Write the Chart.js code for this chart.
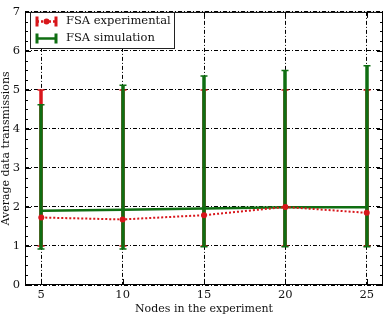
<!DOCTYPE html>
<html>
<head>
<meta charset="utf-8">
<script src="https://cdn.jsdelivr.net/npm/chart.js@4.4.1/dist/chart.umd.min.js"></script>
<style>
  html, body { margin: 0; padding: 0; background: #fff; }
</style>
</head>
<body>
<canvas id="grafica" width="387" height="316"></canvas>
<script>
// datos
let nodos = [5, 10, 15, 20, 25];
let expMedia = [1.73, 1.68, 1.79, 2.00, 1.85];
let expMin = [1.0, 1.0, 1.0, 1.0, 1.0];
let expMax = [5.0, 5.0, 5.0, 5.0, 5.0];
let simMedia = [1.90, 1.93, 1.96, 1.99, 1.99];
let simMin = [0.92, 0.92, 0.98, 0.98, 0.98];
let simMax = [4.62, 5.12, 5.36, 5.50, 5.62];
let yTicks = [0, 1, 2, 3, 4, 5, 6, 7];
let xTicks = [5, 10, 15, 20, 25];
let etiquetas = ['FSA experimental', 'FSA simulation'];

const rojo = '#d8161b';
const verde = '#0f6e12';
const fuente = '"DejaVu Serif", serif';

function puntos(ys){
    return nodos.map((n, i) => ({x: n, y: ys[i]}));
}

// barras de error + marco + ticks hacia dentro
const errores = {
    id: 'errores',
    beforeDatasetsDraw(chart){
        const ctx = chart.ctx;
        const xs = chart.scales.x, ys = chart.scales.y;
        const barras = [
            {min: expMin, max: expMax, color: rojo},
            {min: simMin, max: simMax, color: verde}
        ];
        ctx.save();
        barras.forEach(b => {
            nodos.forEach((n, i) => {
                const px = Math.round(xs.getPixelForValue(n));
                const y1 = ys.getPixelForValue(b.min[i]);
                const y2 = ys.getPixelForValue(b.max[i]);
                ctx.strokeStyle = b.color;
                ctx.lineWidth = 3.5;
                ctx.beginPath();
                ctx.moveTo(px, y1);
                ctx.lineTo(px, y2);
                ctx.stroke();
                ctx.lineWidth = 1.5;
                ctx.beginPath();
                ctx.moveTo(px - 3.5, y1);
                ctx.lineTo(px + 3.5, y1);
                ctx.moveTo(px - 3.5, y2);
                ctx.lineTo(px + 3.5, y2);
                ctx.stroke();
            });
        });
        ctx.restore();
    },
    afterDraw(chart){
        const ctx = chart.ctx;
        const a = chart.chartArea;
        const xs = chart.scales.x, ys = chart.scales.y;
        ctx.save();
        ctx.strokeStyle = '#000';
        ctx.lineWidth = 1;
        ctx.strokeRect(a.left + 0.5, a.top + 0.5, a.right - a.left - 1, a.bottom - a.top - 1);
        ctx.beginPath();
        // ticks menores en y cada 0.25
        for (let v = 0; v <= 7.001; v += 0.25){
            const py = Math.round(ys.getPixelForValue(v)) + 0.5;
            const largo = (Math.abs(v - Math.round(v)) < 0.01) ? 6 : 3;
            ctx.moveTo(a.left, py); ctx.lineTo(a.left + largo, py);
            ctx.moveTo(a.right, py); ctx.lineTo(a.right - largo, py);
        }
        xTicks.forEach(v => {
            const px = Math.round(xs.getPixelForValue(v)) + 0.5;
            ctx.moveTo(px, a.bottom); ctx.lineTo(px, a.bottom - 6);
            ctx.moveTo(px, a.top); ctx.lineTo(px, a.top + 6);
        });
        ctx.stroke();

        // leyenda
        const lx = 30, ly = 12, lw = 144, lh = 36;
        ctx.fillStyle = '#fff';
        ctx.fillRect(lx, ly, lw, lh);
        ctx.strokeStyle = '#222';
        ctx.strokeRect(lx + 0.5, ly + 0.5, lw, lh);
        const filas = [
            {y: 21.5, color: rojo, dash: [2, 2], marca: true},
            {y: 38.5, color: verde, dash: [], marca: false}
        ];
        filas.forEach((f, i) => {
            ctx.strokeStyle = f.color;
            ctx.lineWidth = 3;
            ctx.setLineDash([]);
            ctx.beginPath();
            ctx.moveTo(37, f.y - 5); ctx.lineTo(37, f.y + 5);
            ctx.moveTo(56, f.y - 5); ctx.lineTo(56, f.y + 5);
            ctx.stroke();
            ctx.lineWidth = 2.5;
            ctx.setLineDash(f.dash);
            ctx.beginPath();
            ctx.moveTo(37, f.y); ctx.lineTo(56, f.y);
            ctx.stroke();
            ctx.setLineDash([]);
            if (f.marca){
                ctx.fillStyle = f.color;
                ctx.beginPath();
                ctx.arc(46.5, f.y, 3, 0, Math.PI * 2);
                ctx.fill();
            }
            ctx.fillStyle = '#111';
            ctx.font = '11.5px ' + fuente;
            ctx.textBaseline = 'middle';
            ctx.textAlign = 'left';
            ctx.fillText(etiquetas[i], 66, f.y);
        });
        ctx.restore();
    }
};

var ctxG = document.getElementById('grafica').getContext('2d');
var grafica = new Chart(ctxG, {
    type: 'line',
    data: {
        datasets: [{
            label: etiquetas[0],
            data: puntos(expMedia),
            borderColor: rojo,
            backgroundColor: rojo,
            borderWidth: 2,
            borderDash: [2, 2],
            pointRadius: 3,
            pointBorderWidth: 0,
            tension: 0,
            order: 0
        }, {
            label: etiquetas[1],
            data: puntos(simMedia),
            borderColor: verde,
            backgroundColor: verde,
            borderWidth: 2.5,
            pointRadius: 0,
            tension: 0,
            order: 1
        }]
    },
    options: {
        responsive: false,
        animation: false,
        devicePixelRatio: 1,
        layout: { padding: { top: 5, right: 1, left: 0, bottom: 0 } },
        plugins: {
            legend: { display: false },
            tooltip: { enabled: false }
        },
        scales: {
            x: {
                type: 'linear',
                min: 4,
                max: 26,
                afterBuildTicks: s => { s.ticks = xTicks.map(v => ({value: v})); },
                afterFit: s => { s.height = 31; },
                grid: { color: '#000', lineWidth: 1, drawTicks: false },
                border: { display: false, dash: [4, 2, 1, 2] },
                ticks: { color: '#111', font: { family: fuente, size: 11.5 }, padding: 3,
                         maxRotation: 0, autoSkip: false },
                title: { display: true, text: 'Nodes in the experiment', color: '#111',
                         font: { family: fuente, size: 11 }, padding: { top: 0, bottom: 0 } }
            },
            y: {
                min: 0,
                max: 7,
                afterBuildTicks: s => { s.ticks = yTicks.map(v => ({value: v})); },
                afterFit: s => { s.width = 25; },
                grid: { color: '#000', lineWidth: 1, drawTicks: false },
                border: { display: false, dash: [4, 2, 1, 2] },
                ticks: { color: '#111', font: { family: fuente, size: 11.5 }, padding: 5, autoSkip: false },
                title: { display: true, text: 'Average data transmissions', color: '#111',
                         font: { family: fuente, size: 11 }, padding: { top: 0, bottom: 0 } }
            }
        }
    },
    plugins: [errores]
});
</script>
</body>
</html>
